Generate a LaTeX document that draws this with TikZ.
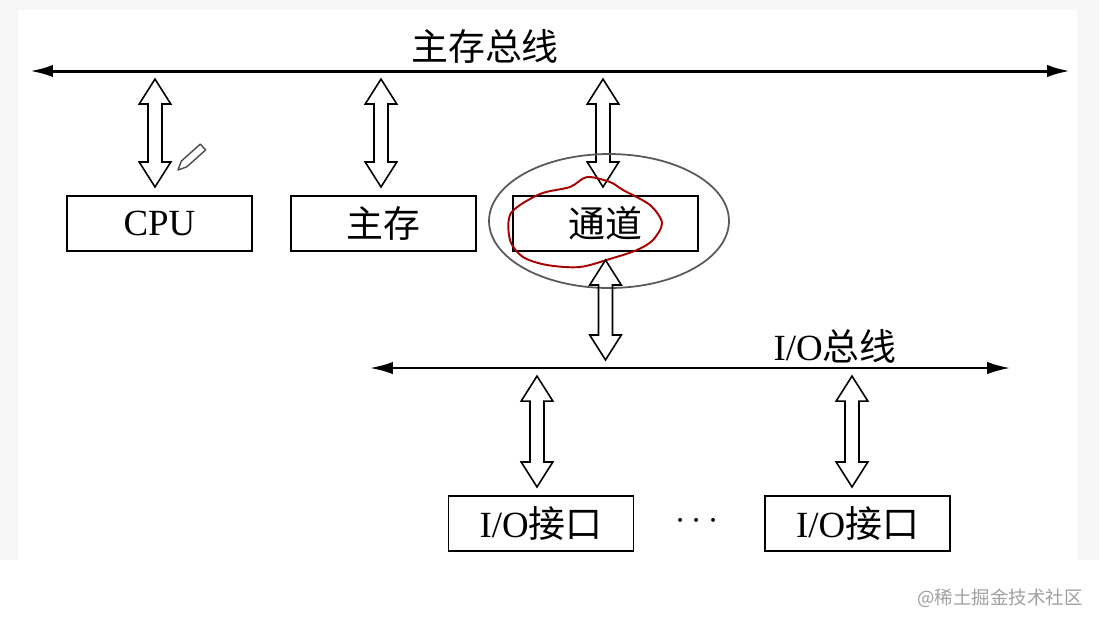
\documentclass[tikz,border=0pt]{standalone}
\usepackage{fontspec}
\setmainfont{Liberation Serif}
\newfontfamily\cjk{Noto Sans CJK SC}
\usetikzlibrary{arrows.meta,calc}

\begin{document}
\begin{tikzpicture}[x=0.02cm, y=-0.02cm, every node/.style={font=\fontsize{21}{24}\selectfont},
  unit/.style={draw, line width=1.1pt, minimum width=3.7cm, minimum height=1.1cm, inner sep=0pt},
  bus/.style={{Latex[length=13pt,width=7pt]}-{Latex[length=13pt,width=7pt]}},
  dblarrow/.style={draw, line width=0.9pt, to path={let \p1=(\tikztostart), \p2=(\tikztotarget) in
    (\x1,\y1-4.6pt) -- (\x1+9pt,\y1-18.8pt) -- (\x1+4pt,\y1-18.8pt) -- (\x1+4pt,\y2+18.8pt)
    -- (\x1+9pt,\y2+18.8pt) -- (\x1,\y2+4.6pt) -- (\x1-9pt,\y2+18.8pt) -- (\x1-4pt,\y2+18.8pt)
    -- (\x1-4pt,\y1-18.8pt) -- (\x1-9pt,\y1-18.8pt) -- cycle}}]
  \useasboundingbox (0,0) rectangle (1099,627);
  \fill[gray!6] (0,0) rectangle (1099,560);
  \fill[white] (18,10) rectangle (1077,560);
  % Main bus
  \coordinate (mbL) at (30,71);
  \coordinate (mbR) at (1070,71);
  \draw[bus, line width=1.7pt] (mbL) -- (mbR);
  \node (mbname) at (485,46) {\cjk 主存总线};
  \coordinate (mb1) at (155,71);
  \coordinate (mb2) at (381,71);
  \coordinate (mb3) at (603,71);
  % Units
  \node[unit] (cpu) at (159.5,223.5) {CPU};
  \node[unit] (mem) at (383.5,223.5) {\cjk 主存};
  \node[unit] (chan) at (605.5,223.5) {\cjk 通道};
  \draw[dblarrow] (mb1) to (cpu.north);
  \draw[dblarrow] (mb2) to (mem.north);
  \draw[dblarrow] (mb3) to (chan.north);
  % marks on the channel
  \draw[gray!70!black, line width=1pt] (609,221) ellipse [x radius=2.4cm, y radius=1.34cm];
  \draw[red!65!black, line width=1.1pt] plot[smooth cycle] coordinates {(511,213) (540,194)
    (570,187) (587,177) (610,182) (623,190) (650,205) (662,223) (653,240) (637,250)
    (613,258) (580,267) (547,265) (523,257) (510,240)};
  \draw[gray!60!black, line width=0.8pt, line join=round] (178,170) -- (181.3,161.1)
    -- (200.3,144.1) -- (205.7,149.9) -- (186.7,166.9) -- cycle;
  % I/O bus
  \coordinate (ibL) at (370,368);
  \coordinate (ibR) at (1010,368);
  \draw[bus, line width=1.2pt] (ibL) -- (ibR);
  \node (ibname) at (835,346) {I/O{\cjk 总线}};
  \coordinate (ib0) at (603,368);
  \coordinate (ib1) at (537,368);
  \coordinate (ib2) at (852,368);
  \draw[dblarrow] (chan.south) to (ib0);
  % Interfaces
  \node[unit] (io1) at (541,523.5) {I/O{\cjk 接口}};
  \node[unit] (io2) at (857.5,523.5) {I/O{\cjk 接口}};
  \node (dots) at (697,521) {$\cdots$};
  \draw[dblarrow] (ib1) to (io1.north);
  \draw[dblarrow] (ib2) to (io2.north);
  \node[font=\fontsize{10.5}{12}\selectfont\cjk, text=gray!75] (mark) at (1000,598) {@稀土掘金技术社区};
\end{tikzpicture}
\end{document}
